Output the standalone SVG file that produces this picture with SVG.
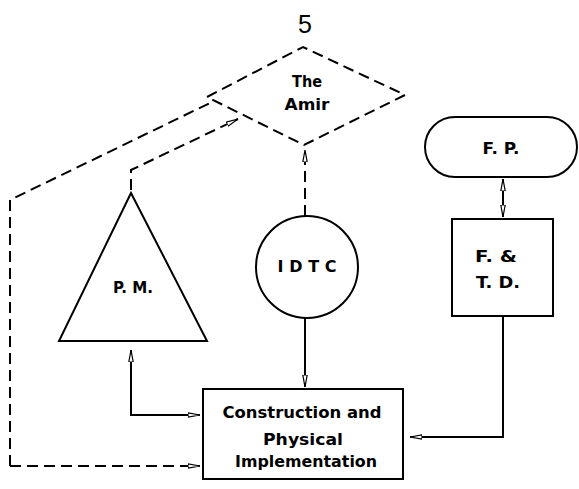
<svg xmlns="http://www.w3.org/2000/svg" width="579" height="489" viewBox="0 0 579 489">
<style>
.s{fill:none;stroke:#000;stroke-width:2}
.d{fill:none;stroke:#000;stroke-width:2;stroke-dasharray:11 6}
.t{font-family:"DejaVu Sans","Liberation Sans",Arial,sans-serif;font-weight:bold;font-size:16px;text-anchor:middle;fill:#000}
</style>
<defs>
<marker id="a" viewBox="0 0 12 6" refX="12" refY="3" markerWidth="12" markerHeight="6" markerUnits="userSpaceOnUse" orient="auto-start-reverse">
<path d="M0,0.8 L12,3 L0,5.2 Z" fill="#fff" stroke="#000" stroke-width="1.2"/>
</marker>
</defs>
<rect width="579" height="489" fill="#fff"/>
<text x="305" y="33" font-family="Liberation Sans,Arial,sans-serif" font-size="25" text-anchor="middle">5</text>
<g id="amir">
<path class="d" d="M207,97 L303,47 L405,95 L304,145 Z"/>
<text class="t" x="307" y="87" textLength="30" lengthAdjust="spacingAndGlyphs">The</text>
<text class="t" x="307" y="110" textLength="45" lengthAdjust="spacingAndGlyphs">Amir</text>
</g>
<g id="pm">
<path class="s" d="M131,193 L59,341 L207,341 Z"/>
<text class="t" x="133" y="293" textLength="40" lengthAdjust="spacingAndGlyphs">P. M.</text>
</g>
<g id="idtc">
<circle class="s" cx="307" cy="267" r="51"/>
<text class="t" x="307" y="272" textLength="59" lengthAdjust="spacing">IDTC</text>
</g>
<g id="fp">
<rect class="s" x="425" y="117" width="152" height="60" rx="30"/>
<text class="t" x="501" y="154" textLength="37" lengthAdjust="spacingAndGlyphs">F. P.</text>
</g>
<g id="ftd">
<rect class="s" x="452" y="219" width="101" height="97"/>
<text class="t" x="496" y="262" textLength="42" lengthAdjust="spacingAndGlyphs">F. &amp;</text>
<text class="t" x="498" y="288" textLength="44" lengthAdjust="spacingAndGlyphs">T. D.</text>
</g>
<g id="cpi">
<rect class="s" x="203" y="389" width="200" height="90"/>
<text class="t" x="302" y="418" textLength="159" lengthAdjust="spacingAndGlyphs">Construction and</text>
<text class="t" x="303" y="445" textLength="80" lengthAdjust="spacingAndGlyphs">Physical</text>
<text class="t" x="306" y="467" textLength="142" lengthAdjust="spacingAndGlyphs">Implementation</text>
</g>
<g id="connectors">
<path class="d" d="M10,466 L10,200 L212,102"/>
<path class="d" d="M10,466 L200,466" marker-end="url(#a)"/>
<path class="d" d="M131,190 L131,170 L238,119" marker-end="url(#a)"/>
<path class="d" d="M305,216 L305,150" marker-end="url(#a)"/>
<path class="s" d="M305,318 L305,387" marker-end="url(#a)"/>
<path class="s" d="M131,350 L131,415 L200,415" marker-start="url(#a)" marker-end="url(#a)"/>
<path class="s" d="M503,179 L503,217" marker-start="url(#a)" marker-end="url(#a)"/>
<path class="s" d="M503,316 L503,437 L410,437" marker-end="url(#a)"/>
</g>
</svg>
